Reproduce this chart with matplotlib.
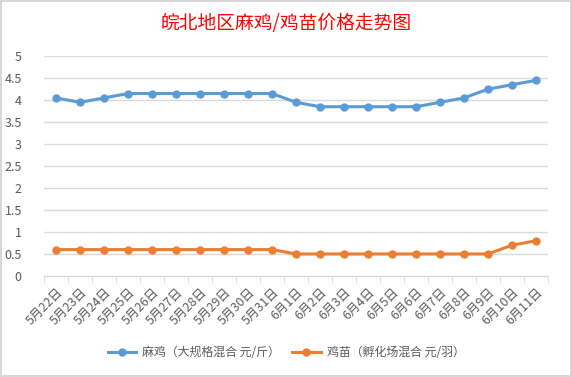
import matplotlib.pyplot as plt
from matplotlib.patches import Rectangle

plt.rcParams['font.family'] = ['Noto Sans CJK SC', 'DejaVu Sans']

dates = ["5月22日", "5月23日", "5月24日", "5月25日", "5月26日", "5月27日", "5月28日",
         "5月29日", "5月30日", "5月31日", "6月1日", "6月2日", "6月3日", "6月4日",
         "6月5日", "6月6日", "6月7日", "6月8日", "6月9日", "6月10日", "6月11日"]
broiler = [4.05, 3.95, 4.05, 4.15, 4.15, 4.15, 4.15, 4.15, 4.15, 4.15, 3.95,
           3.85, 3.85, 3.85, 3.85, 3.85, 3.95, 4.05, 4.25, 4.35, 4.45]
chick = [0.6, 0.6, 0.6, 0.6, 0.6, 0.6, 0.6, 0.6, 0.6, 0.6, 0.5,
         0.5, 0.5, 0.5, 0.5, 0.5, 0.5, 0.5, 0.5, 0.7, 0.8]
yticks = [0, 0.5, 1, 1.5, 2, 2.5, 3, 3.5, 4, 4.5, 5]

BLUE = "#5b9bd5"
ORANGE = "#ed7d31"
GRID = "#d9d9d9"
TXT = "#595959"

fig = plt.figure(figsize=(5.72, 3.77), dpi=100)
fig.patches.append(Rectangle((0.002, 0.003), 0.996, 0.994, transform=fig.transFigure,
                             fill=False, edgecolor="#d0d0d0", lw=1.2))
ax = fig.add_axes([0.077, 0.268, 0.881, 0.583])

x = list(range(len(dates)))
ax.plot(x, broiler, color=BLUE, lw=2.2, marker="o", ms=5, label="麻鸡（大规格混合 元/斤）")
ax.plot(x, chick, color=ORANGE, lw=2.2, marker="o", ms=5, label="鸡苗（孵化场混合 元/羽）")

ax.set_xlim(-0.5, len(dates) - 0.5)
ax.set_ylim(0, 5)
ax.set_yticks(yticks)
ax.set_yticklabels([f"{v:g}" for v in yticks])
ax.grid(axis="y", color=GRID, lw=1)
ax.set_axisbelow(True)

for s in ("top", "right", "left"):
    ax.spines[s].set_visible(False)
ax.spines["bottom"].set_color(GRID)

ax.tick_params(axis="y", length=0, labelsize=9, colors=TXT, pad=16)
ax.set_xticks(x)
ax.set_xticklabels(dates, rotation=45, ha="right", rotation_mode="anchor",
                   fontsize=9, color=TXT)
ax.tick_params(axis="x", length=0, pad=7)
# Excel-style tick marks between categories
ax.set_xticks([i - 0.5 for i in range(len(dates) + 1)], minor=True)
ax.tick_params(axis="x", which="minor", length=5, color=GRID)

fig.text(0.5, 0.938, "皖北地区麻鸡/鸡苗价格走势图", ha="center", va="center",
         fontsize=13.5, color="#ff0000", fontweight="medium")

fig.legend(loc="center", bbox_to_anchor=(0.5, 0.065), ncol=2, frameon=False,
           fontsize=8.6, handlelength=2.4, handletextpad=0.5, columnspacing=1.0,
           labelcolor=TXT)

fig.savefig("out.png", dpi=100)
